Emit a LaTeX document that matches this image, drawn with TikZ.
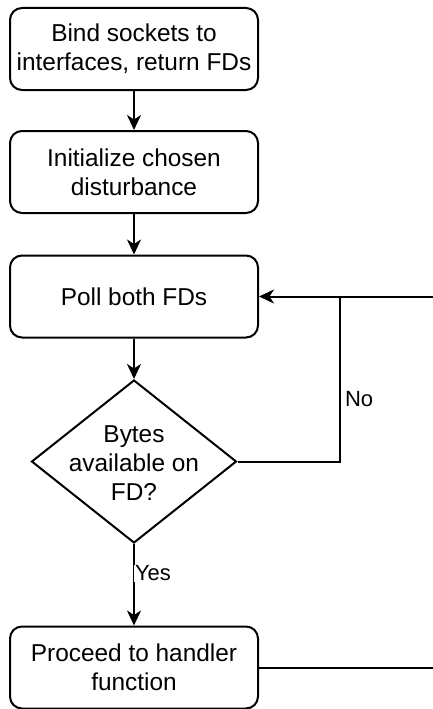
\documentclass[tikz,border=0pt]{standalone}
\usepackage{fontspec}
\setmainfont{Liberation Sans}
\usetikzlibrary{shapes.geometric,arrows.meta}
\begin{document}
\begin{tikzpicture}[x=1pt,y=-1pt,
  stepbox/.style={draw,line width=2pt,rounded corners=12pt,minimum width=248pt,minimum height=82pt,align=center,inner sep=0pt,font=\fontsize{24.4}{29}\selectfont},
  decision/.style={draw,line width=2pt,diamond,minimum width=205pt,minimum height=163pt,inner sep=0pt,aspect=1.258,align=center,font=\fontsize{24.4}{29}\selectfont},
  conn/.style={line width=2pt},
  arr/.style={conn,-{Stealth[length=15pt,width=14pt,inset=4.5pt]}},
  lbl/.style={font=\fontsize{22}{26}\selectfont,fill=white,inner sep=1pt}]
\useasboundingbox (0,0) rectangle (433,709);
\node[stepbox] (b1) at (134,49) {Bind sockets to\\interfaces, return FDs};
\node[stepbox] (b2) at (134,172) {Initialize chosen\\disturbance};
\node[stepbox] (b3) at (134,296.5) {Poll both FDs};
\node[decision] (d) at (134,461.5) {};
\node[align=center,font=\fontsize{24.4}{29}\selectfont] (dt) at (134,463) {Bytes\\available on\\FD?};
\node[stepbox] (b4) at (134,667.5) {Proceed to handler\\function};
\coordinate (loop) at (340,296.5);
\coordinate (rin) at (433,296.5);
\coordinate (rout) at (433,667.5);
\draw[arr] (b1) -- (b2);
\draw[arr] (b2) -- (b3);
\draw[arr] (b3) -- (d);
\draw[arr] (d.south) -- node[lbl,anchor=west,pos=0.36,xshift=-1pt] (yes) {Yes} (b4);
\draw[conn] (d.east) -| node[lbl,anchor=west,pos=0.69,xshift=3pt] (no) {No} (loop);
\draw[arr] (rin) -- (b3.east);
\draw[conn] (b4.east) -- (rout);
\end{tikzpicture}
\end{document}
